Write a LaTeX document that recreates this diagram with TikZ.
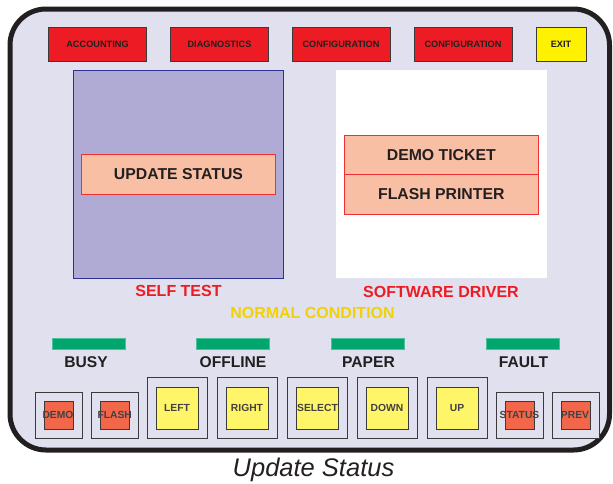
\documentclass[tikz,border=0pt]{standalone}
\usepackage{fontspec}
\setmainfont{Liberation Sans}

\definecolor{panelbg}{HTML}{E0E0EE}
\definecolor{btnred}{HTML}{ED1C24}
\definecolor{btnyellow}{HTML}{FFF200}
\definecolor{keyyellow}{HTML}{FFF568}
\definecolor{keyorange}{HTML}{F26649}
\definecolor{edgedark}{HTML}{3A3A3A}
\definecolor{txtdark}{HTML}{231F20}
\definecolor{selfblue}{HTML}{AFABD5}
\definecolor{selfedge}{HTML}{2E3192}
\definecolor{salmon}{HTML}{F9BFA5}
\definecolor{salmonedge}{HTML}{EE3035}
\definecolor{labelred}{HTML}{ED1C24}
\definecolor{labelgold}{HTML}{F2D200}
\definecolor{ledgreen}{HTML}{00A66E}

\tikzset{
  menubtn/.style={draw=edgedark, line width=0.9pt, fill=btnred,
    minimum width=98pt, minimum height=34pt, inner sep=0pt,
    font=\fontsize{9.2}{10}\selectfont\bfseries, text=txtdark},
  exitbtn/.style={menubtn, fill=btnyellow, minimum width=50pt},
  itembox/.style={draw=salmonedge, line width=1pt, fill=salmon,
    minimum width=194pt, minimum height=39.5pt, inner sep=0pt,
    font=\fontsize{15.8}{16}\selectfont\bfseries, text=txtdark},
  caption/.style={font=\fontsize{16}{16}\selectfont\bfseries, inner sep=0pt},
  ledbar/.style={fill=ledgreen, draw=ledgreen!70!white, line width=0.4pt,
    minimum width=73pt, minimum height=11pt, inner sep=0pt},
  ledlabel/.style={font=\fontsize{15.6}{16}\selectfont\bfseries, text=txtdark, inner sep=0pt},
  keyframe/.style={draw=edgedark, line width=0.9pt, fill=panelbg, inner sep=0pt},
  bigframe/.style={keyframe, minimum width=60pt, minimum height=61pt},
  smallframe/.style={keyframe, minimum width=47pt, minimum height=46pt},
  bigkey/.style={draw=edgedark, line width=0.8pt, fill=keyyellow,
    minimum width=42pt, minimum height=42pt, inner sep=0pt},
  smallkey/.style={draw=edgedark, line width=0.8pt, fill=keyorange,
    minimum width=29pt, minimum height=28pt, inner sep=0pt},
  keytext/.style={font=\fontsize{10.3}{11}\selectfont\bfseries, text=txtdark!85!white, inner sep=0pt}
}

\begin{document}
\begin{tikzpicture}[x=1pt, y=-1pt]
  \useasboundingbox (0,0) rectangle (613,483);

  % outer housing of the control panel
  \draw[line width=5pt, draw=txtdark, fill=panelbg, rounded corners=36pt]
    (10,9) rectangle (609.5,450);

  % menu buttons along the top
  \node[menubtn] (acct) at (97.5,44) {ACCOUNTING};
  \node[menubtn] (diag) at (219.5,44) {DIAGNOSTICS};
  \node[menubtn] (conf1) at (341,44) {CONFIGURATION};
  \node[menubtn] (conf2) at (463,44) {CONFIGURATION};
  \node[exitbtn] (exit) at (561,44) {EXIT};

  % self test area
  \node[draw=selfedge, line width=0.9pt, fill=selfblue, minimum width=210.5pt,
        minimum height=208pt, inner sep=0pt] (selftest) at (178.5,174.3) {};
  \node[itembox] (update) at (178.5,174.5) {UPDATE STATUS};
  \node[caption, text=labelred] (selflbl) at (178.5,290.5) {SELF TEST};

  % software driver area
  \node[fill=white, minimum width=211pt, minimum height=208pt, inner sep=0pt]
        (driver) at (441.5,174.3) {};
  \node[itembox] (demoticket) at (441.3,155) {DEMO TICKET};
  \node[itembox] (flashprinter) at (441.3,194.3) {FLASH PRINTER};
  \node[caption, text=labelred] (driverlbl) at (441,292) {SOFTWARE DRIVER};

  \node[caption, text=labelgold] (normal) at (312.5,313) {NORMAL CONDITION};

  % status indicators
  \node[ledbar] (busyled) at (88.5,343.5) {};
  \node[ledbar] (offled) at (232.5,343.5) {};
  \node[ledbar] (paperled) at (368,343.5) {};
  \node[ledbar] (faultled) at (522.5,343.5) {};
  \node[ledlabel] (busy) at (86,362.5) {BUSY};
  \node[ledlabel] (offline) at (233,362.5) {OFFLINE};
  \node[ledlabel] (paper) at (368.5,362.5) {PAPER};
  \node[ledlabel] (fault) at (523.5,362.5) {FAULT};

  % keypad
  \node[smallframe] (demof) at (59,415) {};
  \node[smallkey] (demok) at (58.5,415) {};
  \node[keytext] (demot) at (58,415) {DEMO};

  \node[smallframe] (flashf) at (114.5,415) {};
  \node[smallkey] (flashk) at (114.5,415) {};
  \node[keytext] (flasht) at (114.7,415) {FLASH};

  \node[bigframe] (leftf) at (177,407.5) {};
  \node[bigkey] (leftk) at (177,408) {};
  \node[keytext] (leftt) at (177,408) {LEFT};

  \node[bigframe] (rightf) at (247,407.5) {};
  \node[bigkey] (rightk) at (247,408) {};
  \node[keytext] (rightt) at (247,408) {RIGHT};

  \node[bigframe] (selectf) at (317.5,407.5) {};
  \node[bigkey] (selectk) at (317.5,408) {};
  \node[keytext] (selectt) at (317.5,408) {SELECT};

  \node[bigframe] (downf) at (387.5,407.5) {};
  \node[bigkey] (downk) at (387,408) {};
  \node[keytext] (downt) at (387,408) {DOWN};

  \node[bigframe] (upf) at (457,407.5) {};
  \node[bigkey] (upk) at (457,408) {};
  \node[keytext] (upt) at (457,408) {UP};

  \node[smallframe] (statusf) at (520,415) {};
  \node[smallkey] (statusk) at (520,415) {};
  \node[keytext] (statust) at (519.5,415) {STATUS};

  \node[smallframe] (prevf) at (576,415) {};
  \node[smallkey] (prevk) at (575.5,415) {};
  \node[keytext] (prevt) at (575,415) {PREV};

  % figure title
  \node[anchor=base, inner sep=0pt, text=txtdark,
        font=\fontsize{25.5}{26}\selectfont\itshape] (title) at (313.5,476) {Update Status};
\end{tikzpicture}
\end{document}
